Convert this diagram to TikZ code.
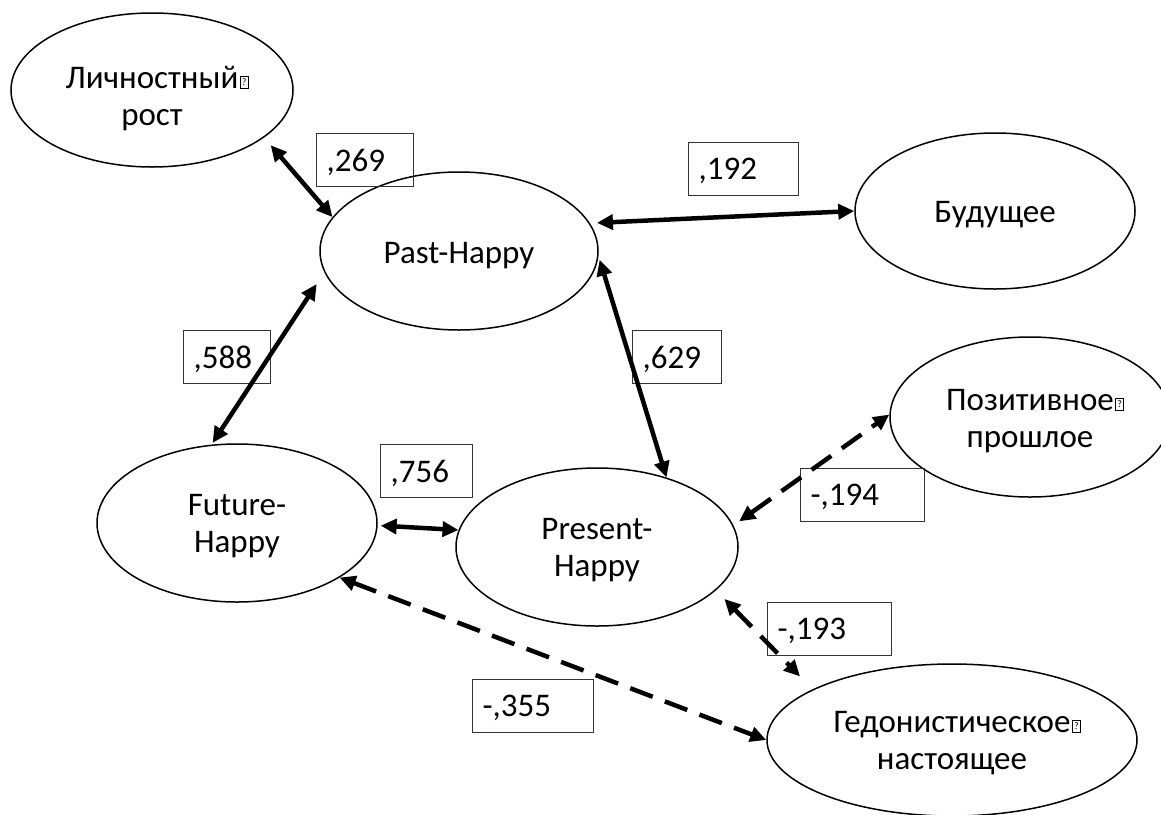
\documentclass[tikz,border=0pt]{standalone}
\usepackage{fontspec}
\setmainfont{Carlito}
\usetikzlibrary{arrows.meta,shapes.geometric}

\newcommand{\qbox}{\rlap{\kern0.8pt\setlength{\fboxsep}{0pt}\setlength{\fboxrule}{0.35pt}\fbox{\parbox[b][5.5pt][c]{3.6pt}{\centering\fontsize{5}{5}\selectfont ?}}}}
\newcommand{\tstr}[1]{\rule{0pt}{#1}}
\newcommand{\bstr}[1]{\rule[-#1]{0pt}{#1}}

\begin{document}
\begin{tikzpicture}[x=0.5pt,y=-0.5pt,
  ell/.style={draw, ellipse, line width=0.75pt, inner sep=0pt, align=center, font=\fontsize{16.5}{18.75}\selectfont},
  lbl/.style={draw=black!80, line width=0.6pt, rectangle, anchor=north west, minimum height=26.5pt, inner xsep=5pt, inner ysep=0pt, align=left, text depth=0pt, font=\fontsize{16.5}{18.75}\selectfont, text width=#1},
  sol/.style={line width=2.25pt, {Triangle[length=8pt,width=7.5pt]}-{Triangle[length=8pt,width=7.5pt]}},
  dsh/.style={sol, dash pattern=on 12pt off 6.5pt}]
\useasboundingbox (0,0) rectangle (1161,814);
\clip (0,0) rectangle (1161,814);

% ellipses
\node[ell, minimum width=141pt, minimum height=77pt] (L) at (152,90) {\tstr{22.75pt}Личностный\qbox\\рост\bstr{6pt}};
\node[ell, minimum width=139pt, minimum height=79pt] (P) at (459,251) {\tstr{18pt}Past-Happy\bstr{6pt}};
\node[ell, minimum width=140pt, minimum height=78pt] (B) at (995,211) {\tstr{17pt}Будущее\bstr{6pt}};
\node[ell, minimum width=140pt, minimum height=80pt] (Pz) at (1030,417) {\tstr{17.75pt}Позитивное\qbox\\прошлое\bstr{6pt}};
\node[ell, minimum width=140pt, minimum height=79pt] (F) at (237,523) {\tstr{16.75pt}Future-\\Happy\bstr{6pt}};
\node[ell, minimum width=141pt, minimum height=79pt] (Pr) at (597,547) {\tstr{16.75pt}Present-\\Happy\bstr{6pt}};
\node[ell, minimum width=185pt, minimum height=76pt] (G) at (952,740) {\tstr{16.75pt}Гедонистическое\qbox\\настоящее\bstr{6pt}};

% labels
\node[lbl=38.5pt] (l269) at (316,133) {,269};
\node[lbl=45pt] (l192) at (688,142) {,192};
\node[lbl=33.5pt] (l588) at (183,330) {,588};
\node[lbl=34.5pt] (l629) at (632,330) {,629};
\node[lbl=36pt] (l756) at (380,444) {,756};
\node[lbl=52pt] (l194) at (800,468) {-,194};
\node[lbl=52pt] (l193) at (767,602) {-,193};
\node[lbl=50.5pt] (l355) at (472,679) {-,355};

% connectors
\draw[sol, shorten <=5pt] (L.-23.4) -- (P.165.3);
\draw[sol, shorten <=3.5pt] (P.12.8) -- (B.180);
\draw[sol, shorten <=7pt, shorten >=1pt] (P.189.6) -- (F.108.8);
\draw[sol, shorten <=2pt] (P.-2) -- (Pr.45.4);
\draw[sol, shorten <=1.5pt] (F.-1) -- (Pr.173.1);
\draw[dsh, shorten <=3.5pt] (Pr.9.5) -- (Pz.179);
\draw[dsh, shorten <=6pt, shorten >=9pt] (Pr.-20.8) -- (G.160.9);
\draw[dsh] (F.-28.3) -- (G.180);
\end{tikzpicture}
\end{document}
